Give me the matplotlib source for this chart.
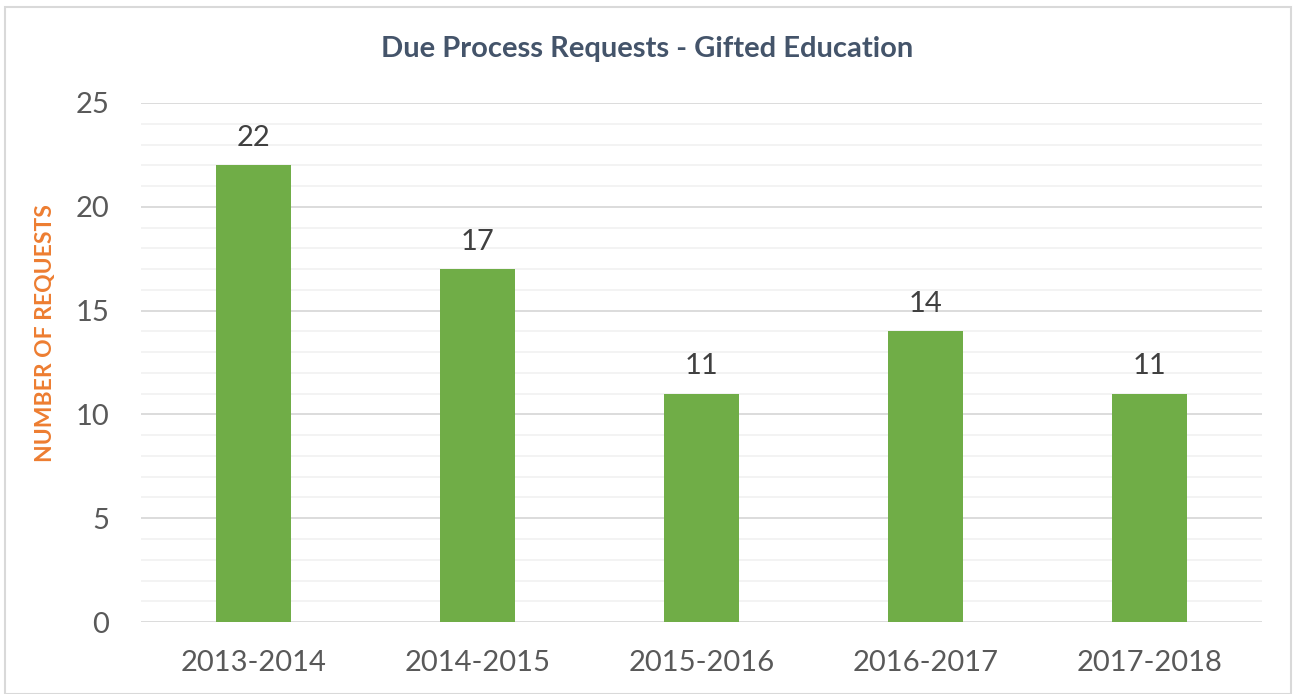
import matplotlib

matplotlib.use("Agg")
import matplotlib.pyplot as plt  # noqa: E402
from matplotlib.patches import Rectangle  # noqa: E402

# --- data ---
years = ["2013-2014", "2014-2015", "2015-2016", "2016-2017", "2017-2018"]
requests = [22, 17, 11, 14, 11]
y_ticks = [0, 5, 10, 15, 20, 25]

GREEN = "#70AD47"
TEXT = "#595959"
TITLE = "#44546A"
ORANGE = "#ED7D31"

plt.rcParams["font.family"] = ["Lato", "DejaVu Sans"]

fig = plt.figure(figsize=(12.94, 6.94), dpi=100)
ax = fig.add_axes([0.109, 0.1037, 0.866, 0.7479])

x = list(range(len(years)))
ax.bar(x, requests, width=0.335, color=GREEN, zorder=3)
for xi, v in zip(x, requests):
    ax.text(xi, v + 0.7, str(v), ha="center", va="bottom", fontsize=21, color="#404040")

ax.set_xlim(-0.5, len(years) - 0.5)
ax.set_ylim(0, 25)
ax.set_xticks(x)
ax.set_xticklabels(years)
ax.set_yticks(y_ticks)
ax.set_yticks(range(0, 26), minor=True)
ax.grid(axis="y", which="minor", color="#F2F2F2", lw=1.3, zorder=0)
ax.grid(axis="y", which="major", color="#D9D9D9", lw=1.3, zorder=1)
ax.tick_params(axis="both", which="both", length=0, labelsize=21, labelcolor=TEXT)
ax.tick_params(axis="x", pad=20)
ax.tick_params(axis="y", pad=23)
for s in ax.spines.values():
    s.set_visible(False)

ax.set_ylabel("NUMBER OF REQUESTS", fontsize=16.5, fontweight="bold", color=ORANGE,
              va="center")
ax.yaxis.set_label_coords(-0.085, 0.557)
fig.text(0.5, 0.93, "Due Process Requests - Gifted Education", ha="center", va="center",
         fontsize=21, fontweight="bold", color=TITLE)

# chart border
fig.add_artist(Rectangle((5 / 1294, 0), 1286 / 1294, 1 - 7 / 694, transform=fig.transFigure,
                         fill=False, edgecolor="#D9D9D9", lw=1.5))

fig.savefig("out.png", dpi=100)
